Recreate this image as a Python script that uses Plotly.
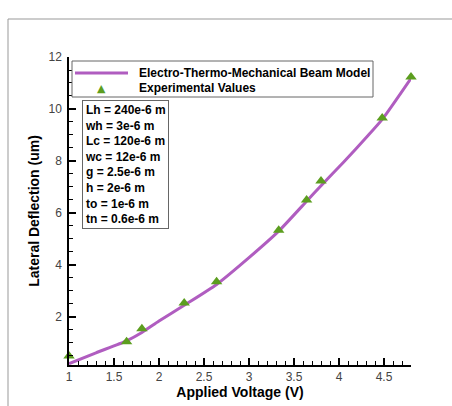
import plotly.graph_objects as go

# Model curve (Electro-Thermo-Mechanical Beam Model)
model_v = [1.0, 1.3, 1.64, 1.81, 2.0, 2.28, 2.64, 3.0, 3.33, 3.64, 3.8, 4.05, 4.31, 4.48, 4.8]
model_d = [0.2, 0.62, 1.08, 1.4, 1.84, 2.45, 3.25, 4.28, 5.3, 6.45, 7.05, 7.95, 8.93, 9.6, 11.18]

# Experimental values
exp_v = [1.0, 1.64, 1.81, 2.28, 2.64, 3.33, 3.64, 3.8, 4.48, 4.8]
exp_d = [0.5, 1.04, 1.54, 2.54, 3.35, 5.33, 6.5, 7.23, 9.65, 11.23]

series_names = ["Electro-Thermo-Mechanical Beam Model", "Experimental Values"]

params = ["Lh = 240e-6 m", "wh = 3e-6 m", "Lc = 120e-6 m", "wc = 12e-6 m",
          "g = 2.5e-6 m", "h = 2e-6 m", "to = 1e-6 m", "tn = 0.6e-6 m"]

font_family = "Liberation Sans, Arial, sans-serif"
LINE_COLOR = "#b05dc0"
MARK_COLOR = "#5c9e1f"

# plot area geometry (pixels)
L, T, W, H = 69, 57, 342, 308


def px(x):
    return (x - L) / W


def py(y):
    return 1 - (y - T) / H


fig = go.Figure()
fig.add_trace(go.Scatter(x=model_v, y=model_d, mode="lines", name=series_names[0],
                         line=dict(color=LINE_COLOR, width=3, shape="spline", smoothing=0.6),
                         showlegend=False))
fig.add_trace(go.Scatter(x=exp_v, y=exp_d, mode="markers", name=series_names[1],
                         marker=dict(symbol="triangle-up", color=MARK_COLOR, size=10),
                         cliponaxis=False, showlegend=False))

axis_common = dict(
    showline=True, linecolor="black", linewidth=1.5, mirror=False,
    ticks="inside", ticklen=7, tickwidth=1.5, tickcolor="black",
    showgrid=False, zeroline=False,
    tickfont=dict(family=font_family, size=12, color="#444"),
)

fig.update_xaxes(range=[1, 4.8], dtick=0.5, tick0=1,
                 minor=dict(dtick=0.1, ticks="inside", ticklen=4, tickcolor="black", tickwidth=1),
                 title=dict(text="<b>Applied Voltage (V)</b>", font=dict(family=font_family, size=14, color="black"), standoff=1),
                 **axis_common)
fig.update_yaxes(range=[0.15, 12], dtick=2, tick0=0, ticklabelstandoff=3,
                 minor=dict(dtick=0.5, ticks="inside", ticklen=4, tickcolor="black", tickwidth=1),
                 title=dict(text="<b>Lateral Deflection (um)</b>", font=dict(family=font_family, size=14, color="black"), standoff=6),
                 **axis_common)

# legend (drawn manually to match the compact layout)
fig.add_shape(type="rect", xref="paper", yref="paper", x0=px(72), x1=px(373), y0=py(61), y1=py(97),
              line=dict(color="#666", width=1), fillcolor="white", layer="above")
fig.add_shape(type="line", xref="paper", yref="paper", x0=px(75), x1=px(128), y0=py(73), y1=py(73),
              line=dict(color=LINE_COLOR, width=3), layer="above")
fig.add_annotation(xref="paper", yref="paper", x=px(101), y=py(88), text="▲", showarrow=False,
                   font=dict(family="DejaVu Sans", size=11, color=MARK_COLOR), xanchor="center", yanchor="middle")
for name, yy in zip(series_names, [73, 88]):
    fig.add_annotation(xref="paper", yref="paper", x=px(137), y=py(yy), text="<b>%s</b>" % name,
                       showarrow=False, xanchor="left", yanchor="middle",
                       font=dict(family=font_family, size=12, color="black"))

fig.add_annotation(xref="paper", yref="paper", x=px(82), y=py(100), xanchor="left", yanchor="top",
                   text="<br>".join("<b>%s</b>" % p for p in params), showarrow=False, align="left",
                   font=dict(family=font_family, size=12, color="black"),
                   bordercolor="#666", borderwidth=1, borderpad=2, bgcolor="white")

# outer frame lines (top and left)
fig.add_shape(type="line", xref="paper", yref="paper", x0=px(8), x1=px(460), y0=py(19), y1=py(19),
              line=dict(color="#999", width=1))
fig.add_shape(type="line", xref="paper", yref="paper", x0=px(8), x1=px(8), y0=py(19), y1=py(420),
              line=dict(color="#999", width=1))

fig.update_layout(
    width=452, height=406,
    margin=dict(l=L, r=452 - L - W, t=T, b=406 - T - H),
    paper_bgcolor="white", plot_bgcolor="white",
    showlegend=False,
    font=dict(family=font_family),
)

fig.write_html("out.html")
